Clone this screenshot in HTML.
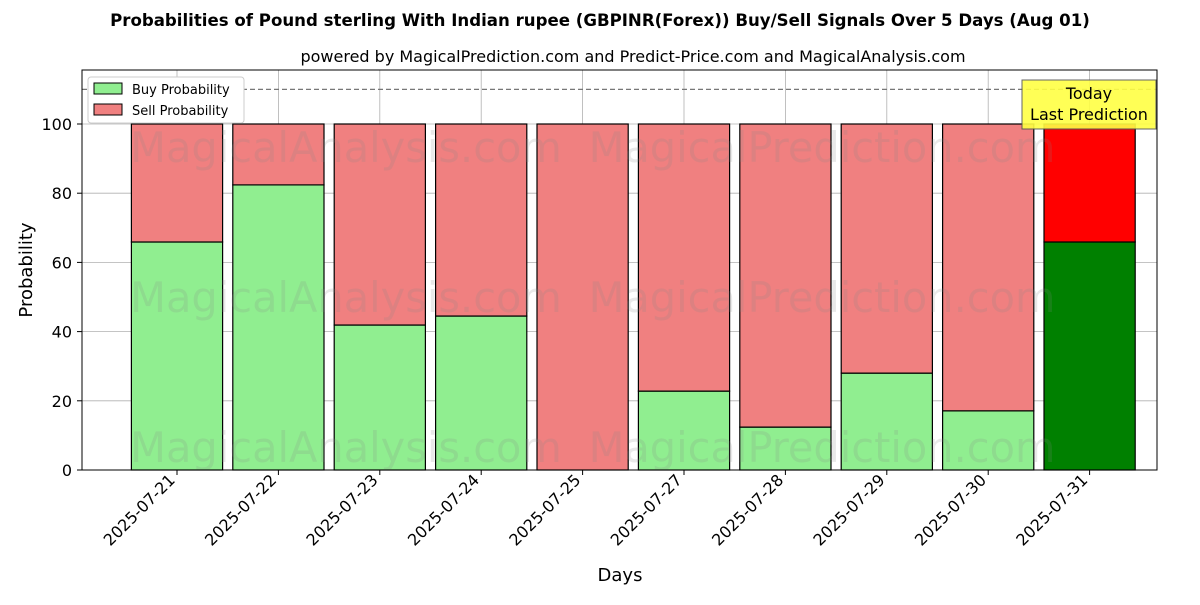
<!DOCTYPE html>
<html><head><meta charset="utf-8"><style>
body{margin:0;background:#fff;}
svg text{font-family:"DejaVu Sans","Liberation Sans",sans-serif;}
</style></head><body>
<svg id="chart" width="1200" height="600" xmlns="http://www.w3.org/2000/svg">
<text x="600" y="26" text-anchor="middle" font-size="16.6" font-weight="bold">Probabilities of Pound sterling With Indian rupee (GBPINR(Forex)) Buy/Sell Signals Over 5 Days (Aug 01)</text>
<text x="633" y="62" text-anchor="middle" font-size="16">powered by MagicalPrediction.com and Predict-Price.com and MagicalAnalysis.com</text>
<g id="grid"></g>
<g id="bars"></g>
<g id="wm" font-size="41.5" fill="#888" opacity="0.18">
<text x="346" y="162" text-anchor="middle">MagicalAnalysis.com</text>
<text x="822" y="162" text-anchor="middle">MagicalPrediction.com</text>
<text x="346" y="312" text-anchor="middle">MagicalAnalysis.com</text>
<text x="822" y="312" text-anchor="middle">MagicalPrediction.com</text>
<text x="346" y="462" text-anchor="middle">MagicalAnalysis.com</text>
<text x="822" y="462" text-anchor="middle">MagicalPrediction.com</text>
</g>
<g id="axes"></g>
<rect x="82" y="70" width="1075" height="400" fill="none" stroke="#000" stroke-width="1"/>
<text transform="translate(32,270) rotate(-90)" text-anchor="middle" font-size="18">Probability</text>
<text x="620" y="581" text-anchor="middle" font-size="18">Days</text>
<g>
<rect x="88" y="77" width="156" height="46" fill="#fff" stroke="#ccc" rx="3"/>
<rect x="94" y="83" width="28" height="11" fill="#90ee90" stroke="#000"/>
<text x="132" y="94" font-size="13">Buy Probability</text>
<rect x="94" y="104" width="28" height="11" fill="#f08080" stroke="#000"/>
<text x="132" y="115" font-size="13">Sell Probability</text>
</g>
<g>
<rect x="1022" y="80" width="134" height="49" fill="#ffff44" stroke="#555" opacity="0.9"/>
<text x="1089" y="99" text-anchor="middle" font-size="16">Today</text>
<text x="1089" y="120" text-anchor="middle" font-size="16">Last Prediction</text>
</g>
</svg>
<script>
const categories=["2025-07-21","2025-07-22","2025-07-23","2025-07-24","2025-07-25","2025-07-27","2025-07-28","2025-07-29","2025-07-30","2025-07-31"];
const buyValues=[65.9,82.4,41.9,44.5,0,22.8,12.4,28.0,17.1,65.9];
const sellValues=[34.1,17.6,58.1,55.5,100,77.2,87.6,72.0,82.9,34.1];
const yTicks=[0,20,40,60,80,100];
const thresholdValue=110;
const NS="http://www.w3.org/2000/svg";
const y=v=>470-v*3.46;
const x=i=>177+i*101.4;
const halfW=45.6;
function mk(tag,attrs,parent){const e=document.createElementNS(NS,tag);for(const k in attrs)e.setAttribute(k,attrs[k]);parent.appendChild(e);return e;}
const grid=document.getElementById('grid'),bars=document.getElementById('bars'),axes=document.getElementById('axes');
yTicks.forEach(t=>{
 const l=mk('line',{x1:82,x2:1157,y1:y(t),y2:y(t),stroke:'#b0b0b0','stroke-width':0.8},grid);
 
 
 const tk=mk('line',{x1:77,x2:82,y1:y(t),y2:y(t),stroke:'#000'},axes);
 
 
 const tx=mk('text',{x:72,y:y(t)+6,'text-anchor':'end','font-size':16},axes);
 tx.textContent=t;
 
 
});
categories.forEach((c,i)=>{
 const g=mk('line',{x1:x(i),x2:x(i),y1:70,y2:470,stroke:'#b0b0b0','stroke-width':0.8},grid);
 
 
 const last=i===categories.length-1;
 const b=mk('rect',{x:x(i)-halfW,y:y(buyValues[i]),width:halfW*2,height:buyValues[i]*3.46,fill:last?'#008000':'#90ee90',stroke:'#000','stroke-width':1.2},bars);
 
 
 const s=mk('rect',{x:x(i)-halfW,y:y(buyValues[i]+sellValues[i]),width:halfW*2,height:sellValues[i]*3.46,fill:last?'#ff0000':'#f08080',stroke:'#000','stroke-width':1.2},bars);
 
 
 const tk=mk('line',{x1:x(i),x2:x(i),y1:470,y2:475,stroke:'#000'},axes);
 
 
 const tx=mk('text',{x:0,y:0,'text-anchor':'end','font-size':16,transform:`translate(${x(i)-1},${481}) rotate(-45)`},axes);
 tx.textContent=c;
 
 
});
const d=mk('line',{x1:82,x2:1157,y1:y(thresholdValue),y2:y(thresholdValue),stroke:'#777','stroke-width':1.2,'stroke-dasharray':'5,3'},axes);


</script>
</body></html>
